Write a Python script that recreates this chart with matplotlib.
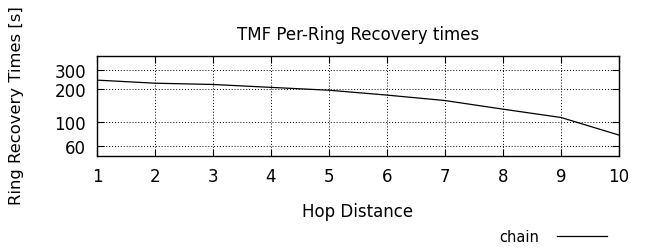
import matplotlib
matplotlib.use("Agg")
import matplotlib.pyplot as plt
from matplotlib.ticker import FixedLocator, NullLocator, FixedFormatter

hops = [1, 2, 3, 4, 5, 6, 7, 8, 9, 10]
chain_times = [241, 226, 220, 207, 195, 176, 157, 131, 110, 76]
y_ticks = [60, 100, 200, 300]

fig = plt.figure(figsize=(6.56, 2.51), dpi=100)
ax = fig.add_axes([97 / 656, 1 - 157 / 251, (619 - 97) / 656, (157 - 57) / 251])

ax.plot(hops, chain_times, color="black", linewidth=0.9, label="chain")

ax.set_yscale("log")
ax.set_xlim(1, 10)
ax.set_ylim(49, 400)
ax.set_xticks(hops)
ax.yaxis.set_major_locator(FixedLocator(y_ticks))
ax.yaxis.set_major_formatter(FixedFormatter([str(v) for v in y_ticks]))
ax.yaxis.set_minor_locator(NullLocator())

ax.grid(True, which="major", color="black", linestyle=(0, (1, 2)), linewidth=0.7)
ax.tick_params(direction="in", top=True, right=True, length=5, width=0.8,
               labelsize=12, pad=8, colors="black")
for s in ax.spines.values():
    s.set_linewidth(1.0)

fs = 12
ax.set_title("TMF Per-Ring Recovery times", fontsize=fs, pad=12)
ax.set_xlabel("Hop Distance", fontsize=fs, labelpad=12)
ax.set_ylabel("Ring Recovery Times [s]", fontsize=11.8)
ax.yaxis.set_label_coords(-73 / (619 - 97), 0.51)

fig.legend(loc="center right", bbox_to_anchor=(614 / 656, 1 - 238 / 251), frameon=False,
           markerfirst=False, handlelength=3.4, handletextpad=1.2, fontsize=10.5,
           borderpad=0)

fig.savefig("out.png", dpi=100)
